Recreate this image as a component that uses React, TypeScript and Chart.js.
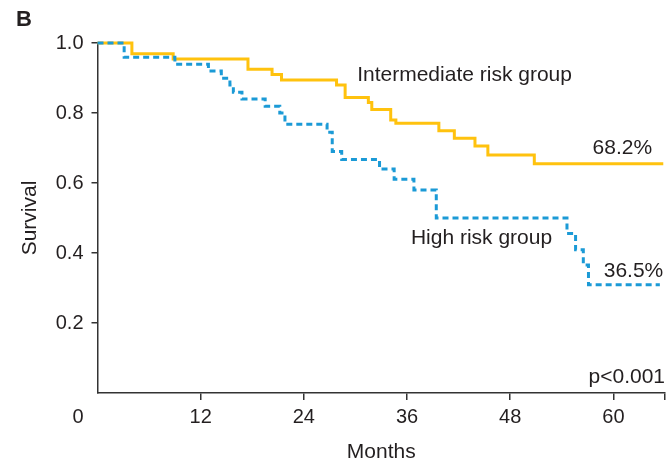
import React, { useEffect, useRef } from "react";
import { Chart, registerables } from "chart.js";

Chart.register(...registerables);

// Kaplan-Meier step data (months, survival)
const intermediateMonths = [0, 4.0, 8.8, 17.5, 20.3, 21.4, 27.8, 28.8, 31.5, 31.9, 34.1, 34.7, 39.7, 41.5, 43.9, 45.4, 50.8, 65.8];
const intermediateSurvival = [1.0, 0.969, 0.954, 0.925, 0.91, 0.894, 0.88, 0.844, 0.83, 0.81, 0.78, 0.771, 0.749, 0.728, 0.706, 0.68, 0.655, 0.655];

const highMonths = [0, 3.1, 9.0, 12.9, 14.4, 15.4, 15.8, 16.8, 19.5, 21.2, 21.8, 26.7, 27.3, 28.4, 32.8, 34.5, 36.8, 39.4, 54.6, 55.6, 56.5, 57.1, 65.4];
const highSurvival = [1.0, 0.959, 0.939, 0.92, 0.899, 0.88, 0.859, 0.84, 0.819, 0.8, 0.768, 0.745, 0.69, 0.667, 0.64, 0.611, 0.58, 0.5, 0.456, 0.409, 0.366, 0.309, 0.309];

const xTicks = [12, 24, 36, 48, 60, 66];
const xTickLabels = ["12", "24", "36", "48", "60", ""];
const yTicks = [0.2, 0.4, 0.6, 0.8, 1.0];
const yTickLabels = ["0.2", "0.4", "0.6", "0.8", "1.0"];

const seriesNames = ["High risk group", "Intermediate risk group"];
const endLabels = ["36.5%", "68.2%"];
const pValueText = "p<0.001";
const panelLetter = "B";
const originLabel = "0";
const xTitle = "Months";
const yTitle = "Survival";

// annotation anchor points in data space: [month, survival]
const intermediateLabelAt = [30.2, 0.909];
const highLabelAt = [36.45, 0.443];
const intermediateEndAt = [64.5, 0.7];
const highEndAt = [65.8, 0.349];
const pValueAt = [66, 0.046];

const FONT = "'Liberation Sans', Arial, Helvetica, sans-serif";
const TEXT = "#231F20";
const AXIS = "#333333";
const YELLOW = "#FFC20E";
const BLUE = "#1B9AD6";

const annotations = {
  id: "kmAnnotations",
  afterDraw(chart: any) {
    const { ctx } = chart;
    const xs = chart.scales.x;
    const ys = chart.scales.y;
    ctx.save();
    ctx.fillStyle = TEXT;
    ctx.textBaseline = "middle";
    ctx.font = `21px ${FONT}`;
    ctx.textAlign = "left";
    ctx.fillText(seriesNames[1], xs.getPixelForValue(intermediateLabelAt[0]), ys.getPixelForValue(intermediateLabelAt[1]));
    ctx.fillText(seriesNames[0], xs.getPixelForValue(highLabelAt[0]), ys.getPixelForValue(highLabelAt[1]));
    ctx.textAlign = "right";
    ctx.fillText(endLabels[1], xs.getPixelForValue(intermediateEndAt[0]), ys.getPixelForValue(intermediateEndAt[1]));
    ctx.fillText(endLabels[0], xs.getPixelForValue(highEndAt[0]), ys.getPixelForValue(highEndAt[1]));
    ctx.fillText(pValueText, xs.getPixelForValue(pValueAt[0]), ys.getPixelForValue(pValueAt[1]));
    // origin "0" label at the corner, in the x tick label row
    ctx.font = `20px ${FONT}`;
    ctx.fillText(originLabel, xs.left - 14, xs.top + 7 + 5 + 12);
    // panel letter
    ctx.font = `bold 22px ${FONT}`;
    ctx.textAlign = "left";
    ctx.fillText(panelLetter, 16, 20);
    ctx.restore();
  },
};

export default function App() {
  const ref = useRef<HTMLCanvasElement | null>(null);
  useEffect(() => {
    if (!ref.current) return;
    const chart = new Chart(ref.current, {
      type: "line",
      data: {
        datasets: [
          {
            label: seriesNames[0],
            data: highMonths.map((m, i) => ({ x: m, y: highSurvival[i] })),
            borderColor: BLUE,
            borderWidth: 3,
            borderDash: [6, 4],
            stepped: "before",
            pointRadius: 0,
            fill: false,
            clip: false as any,
          },
          {
            label: seriesNames[1],
            data: intermediateMonths.map((m, i) => ({ x: m, y: intermediateSurvival[i] })),
            borderColor: YELLOW,
            borderWidth: 3,
            stepped: "before",
            pointRadius: 0,
            fill: false,
            clip: false as any,
          },
        ],
      },
      options: {
        animation: false,
        responsive: false,
        layout: { padding: { left: 0, right: 6, top: 43, bottom: 0 } },
        plugins: { legend: { display: false }, tooltip: { enabled: false } },
        scales: {
          x: {
            type: "linear",
            min: 0,
            max: 66,
            afterBuildTicks: (s: any) => {
              s.ticks = xTicks.map((v) => ({ value: v }));
            },
            afterFit: (s: any) => {
              s.height = 70;
            },
            ticks: {
              autoSkip: false,
              maxRotation: 0,
              padding: 5,
              color: TEXT,
              font: { family: FONT, size: 20 },
              callback: (v: any) => {
                const i = xTicks.indexOf(Number(v));
                return i >= 0 ? xTickLabels[i] : "";
              },
            },
            grid: { drawOnChartArea: false, drawTicks: true, tickLength: 7, color: AXIS, lineWidth: 1.5 },
            border: { display: true, color: AXIS, width: 1.5 },
            title: {
              display: true,
              text: xTitle,
              color: TEXT,
              font: { family: FONT, size: 21, lineHeight: 1 },
              padding: { top: 0, bottom: 0.5 },
            },
          },
          y: {
            type: "linear",
            min: 0,
            max: 1,
            afterBuildTicks: (s: any) => {
              s.ticks = yTicks.map((v) => ({ value: v }));
            },
            afterFit: (s: any) => {
              s.width = 97.5;
            },
            ticks: {
              autoSkip: false,
              padding: 8,
              color: TEXT,
              font: { family: FONT, size: 20 },
              callback: (v: any) => {
                const i = yTicks.findIndex((t) => Math.abs(t - Number(v)) < 1e-6);
                return i >= 0 ? yTickLabels[i] : "";
              },
            },
            grid: { drawOnChartArea: false, drawTicks: true, tickLength: 6, color: AXIS, lineWidth: 1.5 },
            border: { display: true, color: AXIS, width: 1.5 },
            title: {
              display: true,
              text: yTitle,
              color: TEXT,
              font: { family: FONT, size: 21, lineHeight: 1 },
              padding: { top: 19.5, bottom: 0 },
            },
          },
        },
      },
      plugins: [annotations],
    } as any);
    return () => chart.destroy();
  }, []);
  return (
    <div style={{ position: "absolute", left: 0, top: 0, width: 671, height: 463, background: "#fff" }}>
      <canvas ref={ref} width={671} height={463} style={{ display: "block" }} />
    </div>
  );
}
